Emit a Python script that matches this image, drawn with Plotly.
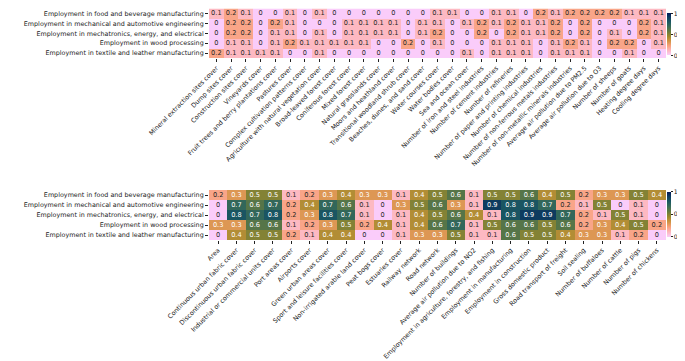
import plotly.graph_objects as go

rows = [
    "Employment in food and beverage manufacturing",
    "Employment in mechanical and automotive engineering",
    "Employment in mechatronics, energy, and electrical",
    "Employment in wood processing",
    "Employment in textile and leather manufacturing",
]

top_cols = [
    "Mineral extraction sites cover", "Dump sites cover", "Construction sites cover",
    "Vineyards cover", "Fruit trees and berry plantations cover", "Pastures cover",
    "Complex cultivation patterns cover", "Agriculture with natural vegetation cover",
    "Broad-leaved forest cover", "Coniferous forest cover", "Mixed forest cover",
    "Natural grasslands cover", "Moors and heathland cover", "Transitional woodland shrub cover",
    "Beaches, dunes, and sand cover", "Water courses cover", "Water bodies cover",
    "Sea and ocean cover", "Number of iron and steel industries", "Number of cement industries",
    "Number of refineries", "Number of paper and printing industries",
    "Number of chemical industries", "Number of non-ferrous metals industries",
    "Number of non-metallic minerals industries", "Average air pollution due to PM2.5",
    "Average air pollution due to O3", "Number of sheeps", "Number of goats",
    "Heating degree days", "Cooling degree days",
]

top_food = [0.1, 0.2, 0.1, 0, 0, 0.1, 0, 0.1, 0, 0, 0, 0, 0, 0, 0, 0.1, 0.1, 0, 0, 0.1, 0.1, 0, 0.2, 0.1, 0.2, 0.2, 0.2, 0.2, 0.1, 0.1, 0.1]
top_mech = [0, 0.2, 0.2, 0, 0.2, 0.1, 0, 0, 0, 0.1, 0.1, 0.1, 0.1, 0, 0.1, 0.1, 0, 0.1, 0.2, 0.1, 0.2, 0.1, 0.1, 0.2, 0, 0.2, 0, 0, 0, 0.2, 0.1]
top_mechatronics = [0, 0.2, 0.2, 0, 0.1, 0.1, 0, 0.1, 0, 0.1, 0.1, 0.1, 0.1, 0, 0.1, 0.2, 0, 0, 0.2, 0, 0.2, 0.1, 0.1, 0.2, 0, 0.2, 0, 0.1, 0, 0.2, 0.1]
top_wood = [0, 0.1, 0.1, 0, 0.1, 0.2, 0.1, 0.1, 0.1, 0.1, 0.1, 0, 0, 0.2, 0, 0.1, 0, 0, 0, 0.1, 0.1, 0.1, 0, 0.1, 0.2, 0.1, 0, 0.2, 0.2, 0, 0.1]
top_textile = [0.2, 0.1, 0.1, 0.1, 0.1, 0, 0, 0.1, 0, 0, 0, 0, 0, 0, 0, 0, 0, 0.1, 0, 0.1, 0.1, 0.1, 0, 0.1, 0.1, 0.1, 0, 0, 0.1, 0, 0]

bot_cols = [
    "Area", "Continuous urban fabric cover", "Discontinuous urban fabric cover",
    "Industrial or commercial units cover", "Port areas cover", "Airports cover",
    "Green urban areas cover", "Sport and leisure facilities cover",
    "Non-irrigated arable land cover", "Peat bogs cover", "Estuaries cover",
    "Railway network", "Road network", "Number of buildings",
    "Average air pollution due to NO2", "Employment in agriculture, forestry, and fishing",
    "Employment in manufacturing", "Employment in construction", "Gross domestic product",
    "Road transport of freight", "Soil sealing", "Number of buffaloes", "Number of cattle",
    "Number of pigs", "Number of chickens",
]

bot_food = [0.2, 0.3, 0.5, 0.5, 0.1, 0.2, 0.3, 0.4, 0.3, 0.3, 0.1, 0.4, 0.5, 0.6, 0.1, 0.5, 0.5, 0.6, 0.4, 0.5, 0.2, 0.3, 0.3, 0.5, 0.4]
bot_mech = [0, 0.7, 0.6, 0.7, 0.2, 0.4, 0.7, 0.6, 0.1, 0, 0.3, 0.5, 0.6, 0.3, 0.1, 0.9, 0.8, 0.8, 0.7, 0.2, 0.1, 0.5, 0, 0.1, 0]
bot_mechatronics = [0, 0.8, 0.7, 0.8, 0.2, 0.3, 0.8, 0.7, 0.1, 0, 0.1, 0.4, 0.5, 0.6, 0.4, 0.1, 0.8, 0.9, 0.9, 0.7, 0.2, 0.1, 0.5, 0.1, 0]
bot_wood = [0.3, 0.3, 0.6, 0.6, 0.1, 0.2, 0.3, 0.5, 0.2, 0.4, 0.1, 0.4, 0.6, 0.7, 0.1, 0.5, 0.6, 0.6, 0.5, 0.6, 0.2, 0.3, 0.4, 0.5, 0.2]
bot_textile = [0, 0.4, 0.5, 0.5, 0.2, 0.1, 0.4, 0.4, 0, 0, 0.1, 0.3, 0.3, 0.5, 0.1, 0.1, 0.6, 0.5, 0.5, 0.4, 0.3, 0.3, 0.1, 0.2, 0]

cbar_ticks = [0, 0.5, 1]
cbar_labels = ["0.0", "0.5", "1.0"]

top_z = [top_food, top_mech, top_mechatronics, top_wood, top_textile]
bot_z = [bot_food, bot_mech, bot_mechatronics, bot_wood, bot_textile]

# batlow reversed
batlow = ["#011959", "#103F60", "#1C5A62", "#3C6D56", "#687B3E",
          "#9D892B", "#D29343", "#F8A17B", "#FDB7BC", "#FACCFA"]
cs_colors = batlow[::-1]
colorscale = [[i / (len(cs_colors) - 1), c] for i, c in enumerate(cs_colors)]

FONT = "DejaVu Sans"
FS = 6.6
LFS = 6.4

fig = go.Figure()


def add_block(z, cols, xa, ya, cb_y, cb_len):
    fig.add_trace(go.Heatmap(
        z=z, x=cols, y=rows, zmin=0, zmax=1, colorscale=colorscale,
        xaxis=xa, yaxis=ya, hoverinfo="skip",
        colorbar=dict(x=659 / 685, xanchor="left", y=cb_y, yanchor="middle",
                      len=cb_len, lenmode="fraction", thickness=4,
                      outlinewidth=0, xpad=0, ypad=0,
                      tickmode="array", tickvals=cbar_ticks, ticktext=cbar_labels,
                      ticks="outside", ticklen=2, tickwidth=0.8, tickcolor="#222",
                      tickfont=dict(family=FONT, size=6.2, color="#222")),
    ))
    xs, ys, ts, cs = [], [], [], []
    for r, rowvals in zip(rows, z):
        for c, v in zip(cols, rowvals):
            xs.append(c)
            ys.append(r)
            ts.append("0" if v == 0 else f"{v:g}")
            cs.append("white" if v >= 0.3 else "#262626")
    fig.add_trace(go.Scatter(
        x=xs, y=ys, text=ts, mode="text", xaxis=xa, yaxis=ya,
        textfont=dict(family=FONT, size=FS, color=cs),
        hoverinfo="skip", showlegend=False, cliponaxis=False,
    ))


add_block(top_z, top_cols, "x", "y", 1 - 26.5 / 361, 42 / 361)
add_block(bot_z, bot_cols, "x2", "y2", 1 - 206 / 361, 45 / 361)

axis_common = dict(showgrid=False, zeroline=False, showline=False, automargin=False,
                   ticks="outside", ticklen=3, tickwidth=0.8, tickcolor="#222",
                   tickfont=dict(family=FONT, size=LFS, color="#222"))

nrow = len(rows)
fig.update_layout(
    width=685, height=361,
    margin=dict(l=0, r=0, t=0, b=0, autoexpand=False),
    paper_bgcolor="white", plot_bgcolor="white",
    showlegend=False,
    xaxis=dict(domain=[201 / 685, 658 / 685], anchor="y", tickangle=-45,
               range=[-0.5, len(top_cols) - 0.5], **axis_common),
    yaxis=dict(domain=[1 - 50 / 361, 1 - 0.5 / 361], anchor="x",
               range=[nrow - 0.5, -0.5], **axis_common),
    xaxis2=dict(domain=[201 / 685, 658 / 685], anchor="y2", tickangle=-45,
                range=[-0.5, len(bot_cols) - 0.5], **axis_common),
    yaxis2=dict(domain=[1 - 232 / 361, 1 - 182 / 361], anchor="x2",
                range=[nrow - 0.5, -0.5], **axis_common),
)

fig.write_html("out.html")
